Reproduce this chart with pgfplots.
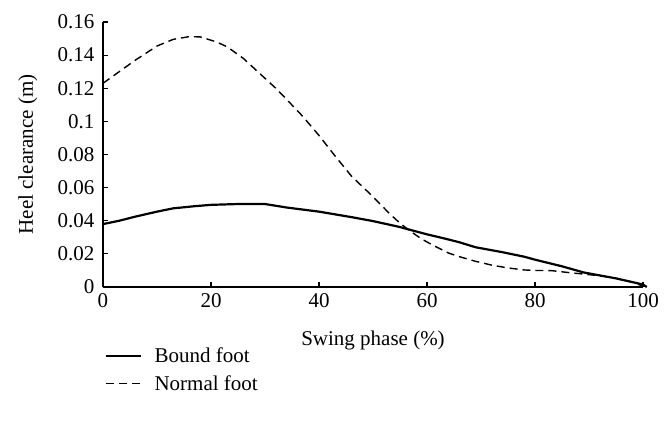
\documentclass[border=0pt]{standalone}
\usepackage{pgfplots}
\pgfplotsset{compat=1.18}
\usepackage{fontspec}
\setmainfont{Liberation Serif}
\begin{document}
\begin{tikzpicture}[x=1pt,y=1pt]
\begin{axis}[
  at={(0pt,0pt)}, anchor=south west,
  scale only axis, width=540pt, height=265pt,
  xmin=0, xmax=100, ymin=0, ymax=0.16,
  axis x line=bottom, axis y line=left,
  axis line style={-, line width=1.3pt},
  tick style={line width=1.1pt, black},
  tick align=inside, major tick length=5pt,
  xtick={0,20,40,60,80,100},
  ytick={0,0.02,0.04,0.06,0.08,0.1,0.12,0.14,0.16},
  yticklabels={0,0.02,0.04,0.06,0.08,0.1,0.12,0.14,0.16},
  /pgf/number format/assume math mode=true,
  tick label style={font=\fontsize{21}{24}\selectfont},
  yticklabel style={xshift=-5pt},
  xticklabel style={yshift=-3pt},
  label style={font=\fontsize{21}{24}\selectfont},
  xlabel={Swing phase (\%)},
  ylabel={Heel clearance (m)},
  xlabel style={at={(axis description cs:0.5,-0.2)}, anchor=center},
  ylabel style={at={(axis description cs:-0.139,0.5)}, anchor=center, rotate=0},
  legend style={draw=none, fill=none, inner sep=0pt, at={(axis description cs:0.004,-0.222)}, anchor=north west,
    font=\fontsize{21}{24}\selectfont, row sep=7pt, cells={anchor=west},
    /tikz/every odd column/.append style={column sep=10pt}},
  legend cell align=left,
  legend image code/.code={\draw[#1] (0pt,0pt) -- (35pt,0pt);},
  clip=false,
]
\addplot[black, line width=2.2pt] coordinates {
(0,0.038) (3,0.040) (6,0.0425) (10,0.0455) (13,0.0475) (17,0.0488) (20,0.0496)
(25,0.0501) (30,0.0501) (34,0.0480) (40,0.0455) (46,0.0422) (50,0.0398) (55,0.0362)
(57,0.0344) (60,0.0318) (63.6,0.0290) (66,0.0270) (69,0.0240) (74,0.0210) (78,0.0183)
(80,0.0165) (85,0.0125) (89,0.0088) (95,0.0052) (100,0.0015) (100.7,0)
};
\addlegendentry{Bound foot}
\addplot[black, line width=1.4pt, dash pattern=on 8pt off 5pt] coordinates {
(0,0.123) (3,0.130) (6,0.137) (10,0.1455) (13,0.1495) (16,0.1512) (18,0.1510)
(21,0.148) (23,0.145) (26,0.138) (29,0.129) (32,0.120) (34,0.1133) (37,0.103)
(40,0.0915) (43,0.079) (46,0.067) (50,0.0545) (53,0.0445) (55,0.0385) (57,0.0335)
(59,0.029) (61,0.0254) (64,0.0205) (66,0.0183) (69,0.0155) (72,0.0132) (75,0.0115)
(78,0.0103) (80,0.0100) (83,0.0099) (86,0.0088) (89,0.0078) (92,0.0068) (95,0.0053)
(98,0.003) (100,0.0005)
};
\addlegendentry{Normal foot}
\end{axis}
\pgfresetboundingbox
\path (-103pt,-145pt) rectangle (568pt,287pt);
\end{tikzpicture}
\end{document}
